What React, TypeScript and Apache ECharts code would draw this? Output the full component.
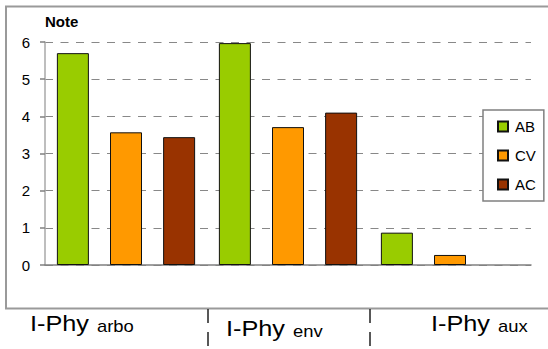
import React, { useEffect, useRef } from "react";
import * as echarts from "echarts";

// Chart data
const categories = ["I-Phy arbo", "I-Phy env", "I-Phy aux"];
const labelMain = ["I-Phy", "I-Phy", "I-Phy"];
const labelSub = ["arbo", "env", "aux"];
const seriesNames = ["AB", "CV", "AC"];
const valuesAB = [5.7, 5.97, 0.87];
const valuesCV = [3.57, 3.71, 0.27];
const valuesAC = [3.44, 4.1, null];
const yTicks = [0, 1, 2, 3, 4, 5, 6];

const FONT = "'Liberation Sans', Arial, sans-serif";
const colors = ["#99cc00", "#ff9900", "#993300"];

// Placement of the category captions under the frame
const captionX = [30, 226, 431];
const captionY = [335, 340, 335];
const separatorX = [208, 370];

export default function App() {
  const ref = useRef<HTMLDivElement>(null);

  useEffect(() => {
    if (!ref.current) return;
    const chart = echarts.init(ref.current, undefined, { renderer: "svg" });
    const valueSets = [valuesAB, valuesCV, valuesAC];
    const scale = 1.15;

    const graphics: any[] = [
      {
        type: "rect",
        z: -10,
        silent: true,
        shape: { x: 6, y: 6.5, width: 600, height: 302 },
        style: { fill: "none", stroke: "#9a9a9a", lineWidth: 2 },
      },
    ];
    labelMain.forEach((m, i) => {
      graphics.push({
        type: "text",
        x: captionX[i],
        y: captionY[i],
        scaleX: scale,
        style: {
          text: m,
          font: `22px ${FONT}`,
          fill: "#000",
          verticalAlign: "bottom",
          align: "left",
        },
      });
      graphics.push({
        type: "text",
        x: captionX[i] + 67,
        y: captionY[i] - 1,
        scaleX: scale,
        style: {
          text: labelSub[i],
          font: `16px ${FONT}`,
          fill: "#000",
          verticalAlign: "bottom",
          align: "left",
        },
      });
    });
    separatorX.forEach((sx) => {
      graphics.push({
        type: "line",
        shape: { x1: sx, y1: 309, x2: sx, y2: 349 },
        style: { stroke: "#222", lineWidth: 1.5, lineDash: [14, 9] },
      });
    });

    chart.setOption({
      animation: false,
      textStyle: { fontFamily: FONT },
      grid: { left: 45, right: 17, top: 42, bottom: 84 },
      legend: {
        data: seriesNames,
        orient: "vertical",
        left: 483,
        top: 110,
        padding: [9, 8, 9, 14],
        itemGap: 14,
        itemWidth: 10,
        itemHeight: 10,
        icon: "rect",
        borderColor: "#808080",
        borderWidth: 1.5,
        backgroundColor: "#fff",
        textStyle: { fontSize: 15, color: "#000", fontFamily: FONT, padding: [0, 0, 0, 2] },
      },
      xAxis: {
        type: "category",
        data: categories,
        axisLine: { show: true, lineStyle: { color: "#808080", width: 1.5 } },
        axisTick: { show: false },
        axisLabel: { show: false },
        splitLine: { show: false },
      },
      yAxis: {
        type: "value",
        min: yTicks[0],
        max: yTicks[yTicks.length - 1],
        interval: 1,
        name: "Note",
        nameLocation: "end",
        nameGap: 21,
        nameTextStyle: {
          fontWeight: "bold",
          fontSize: 15,
          color: "#000",
          align: "left",
          verticalAlign: "middle",
          fontFamily: FONT,
        },
        axisLine: { show: true, lineStyle: { color: "#a8a8a8", width: 1.5 } },
        axisTick: { show: true, length: 5, lineStyle: { color: "#808080", width: 1.5 } },
        axisLabel: { color: "#000", fontSize: 15, margin: 15, fontFamily: FONT },
        splitLine: {
          show: true,
          lineStyle: { color: "#888", width: 1.2, type: [8, 7.5] },
        },
      },
      series: seriesNames.map((name, i) => ({
        name,
        type: "bar",
        data: valueSets[i],
        barWidth: 32,
        barGap: "66%",
        itemStyle: { color: colors[i], borderColor: "#111", borderWidth: 1 },
      })),
      graphic: graphics,
    });

    return () => chart.dispose();
  }, []);

  return (
    <div
      ref={ref}
      style={{ position: "fixed", left: 0, top: 0, width: 548, height: 349, background: "#fff" }}
    />
  );
}
